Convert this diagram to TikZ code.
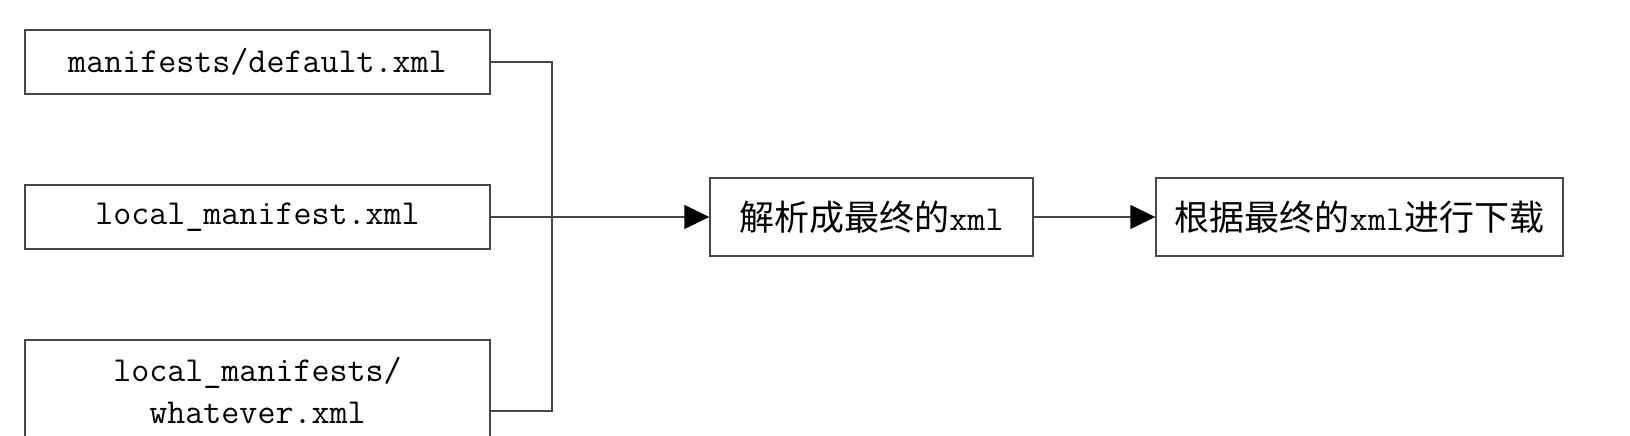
\documentclass[tikz,border=0pt]{standalone}
\usepackage{fontspec}
\newfontfamily\cjk{Noto Sans CJK SC}
\usetikzlibrary{arrows.meta}
\begin{document}
\begin{tikzpicture}[x=1pt,y=1pt,
  box/.style={draw=black!72, line width=1.4pt, inner sep=0pt, align=center,
    font=\fontsize{35}{42}\selectfont\ttfamily},
  txt/.style={inner sep=0pt, align=center, font=\fontsize{35}{42}\selectfont\ttfamily},
  conn/.style={draw=black!72, line width=1.4pt},
  arr/.style={conn, -{Triangle[length=25pt,width=24pt,color=black]}}]
\useasboundingbox (0,0) rectangle (1630,436);
\clip (0,0) rectangle (1630,436);
\node[box, minimum width=465pt, minimum height=64pt] (b1) at (257.5,374) {manifests/default.xml};
\node[box, minimum width=465pt, minimum height=64pt] (b2) at (257.5,219) {local\_manifest.xml};
\node[box, minimum width=465pt, minimum height=142pt] (b3) at (257.5,25) {};
\node[txt] (b3t) at (257.5,46) {local\_manifests/\\whatever.xml};
\node[box, minimum width=323pt, minimum height=78pt] (b4) at (871.5,219) {{\cjk 解析成最终的}xml};
\node[box, minimum width=407pt, minimum height=78pt] (b5) at (1359.5,219) {{\cjk 根据最终的}xml{\cjk 进行下载}};
\coordinate (j) at (552,219);
\draw[conn] (b1.east) -| (j);
\draw[conn] (b3.east) -| (j);
\draw[arr] (b2.east) -- (b4.west);
\draw[arr] (b4.east) -- (b5.west);
\end{tikzpicture}
\end{document}
